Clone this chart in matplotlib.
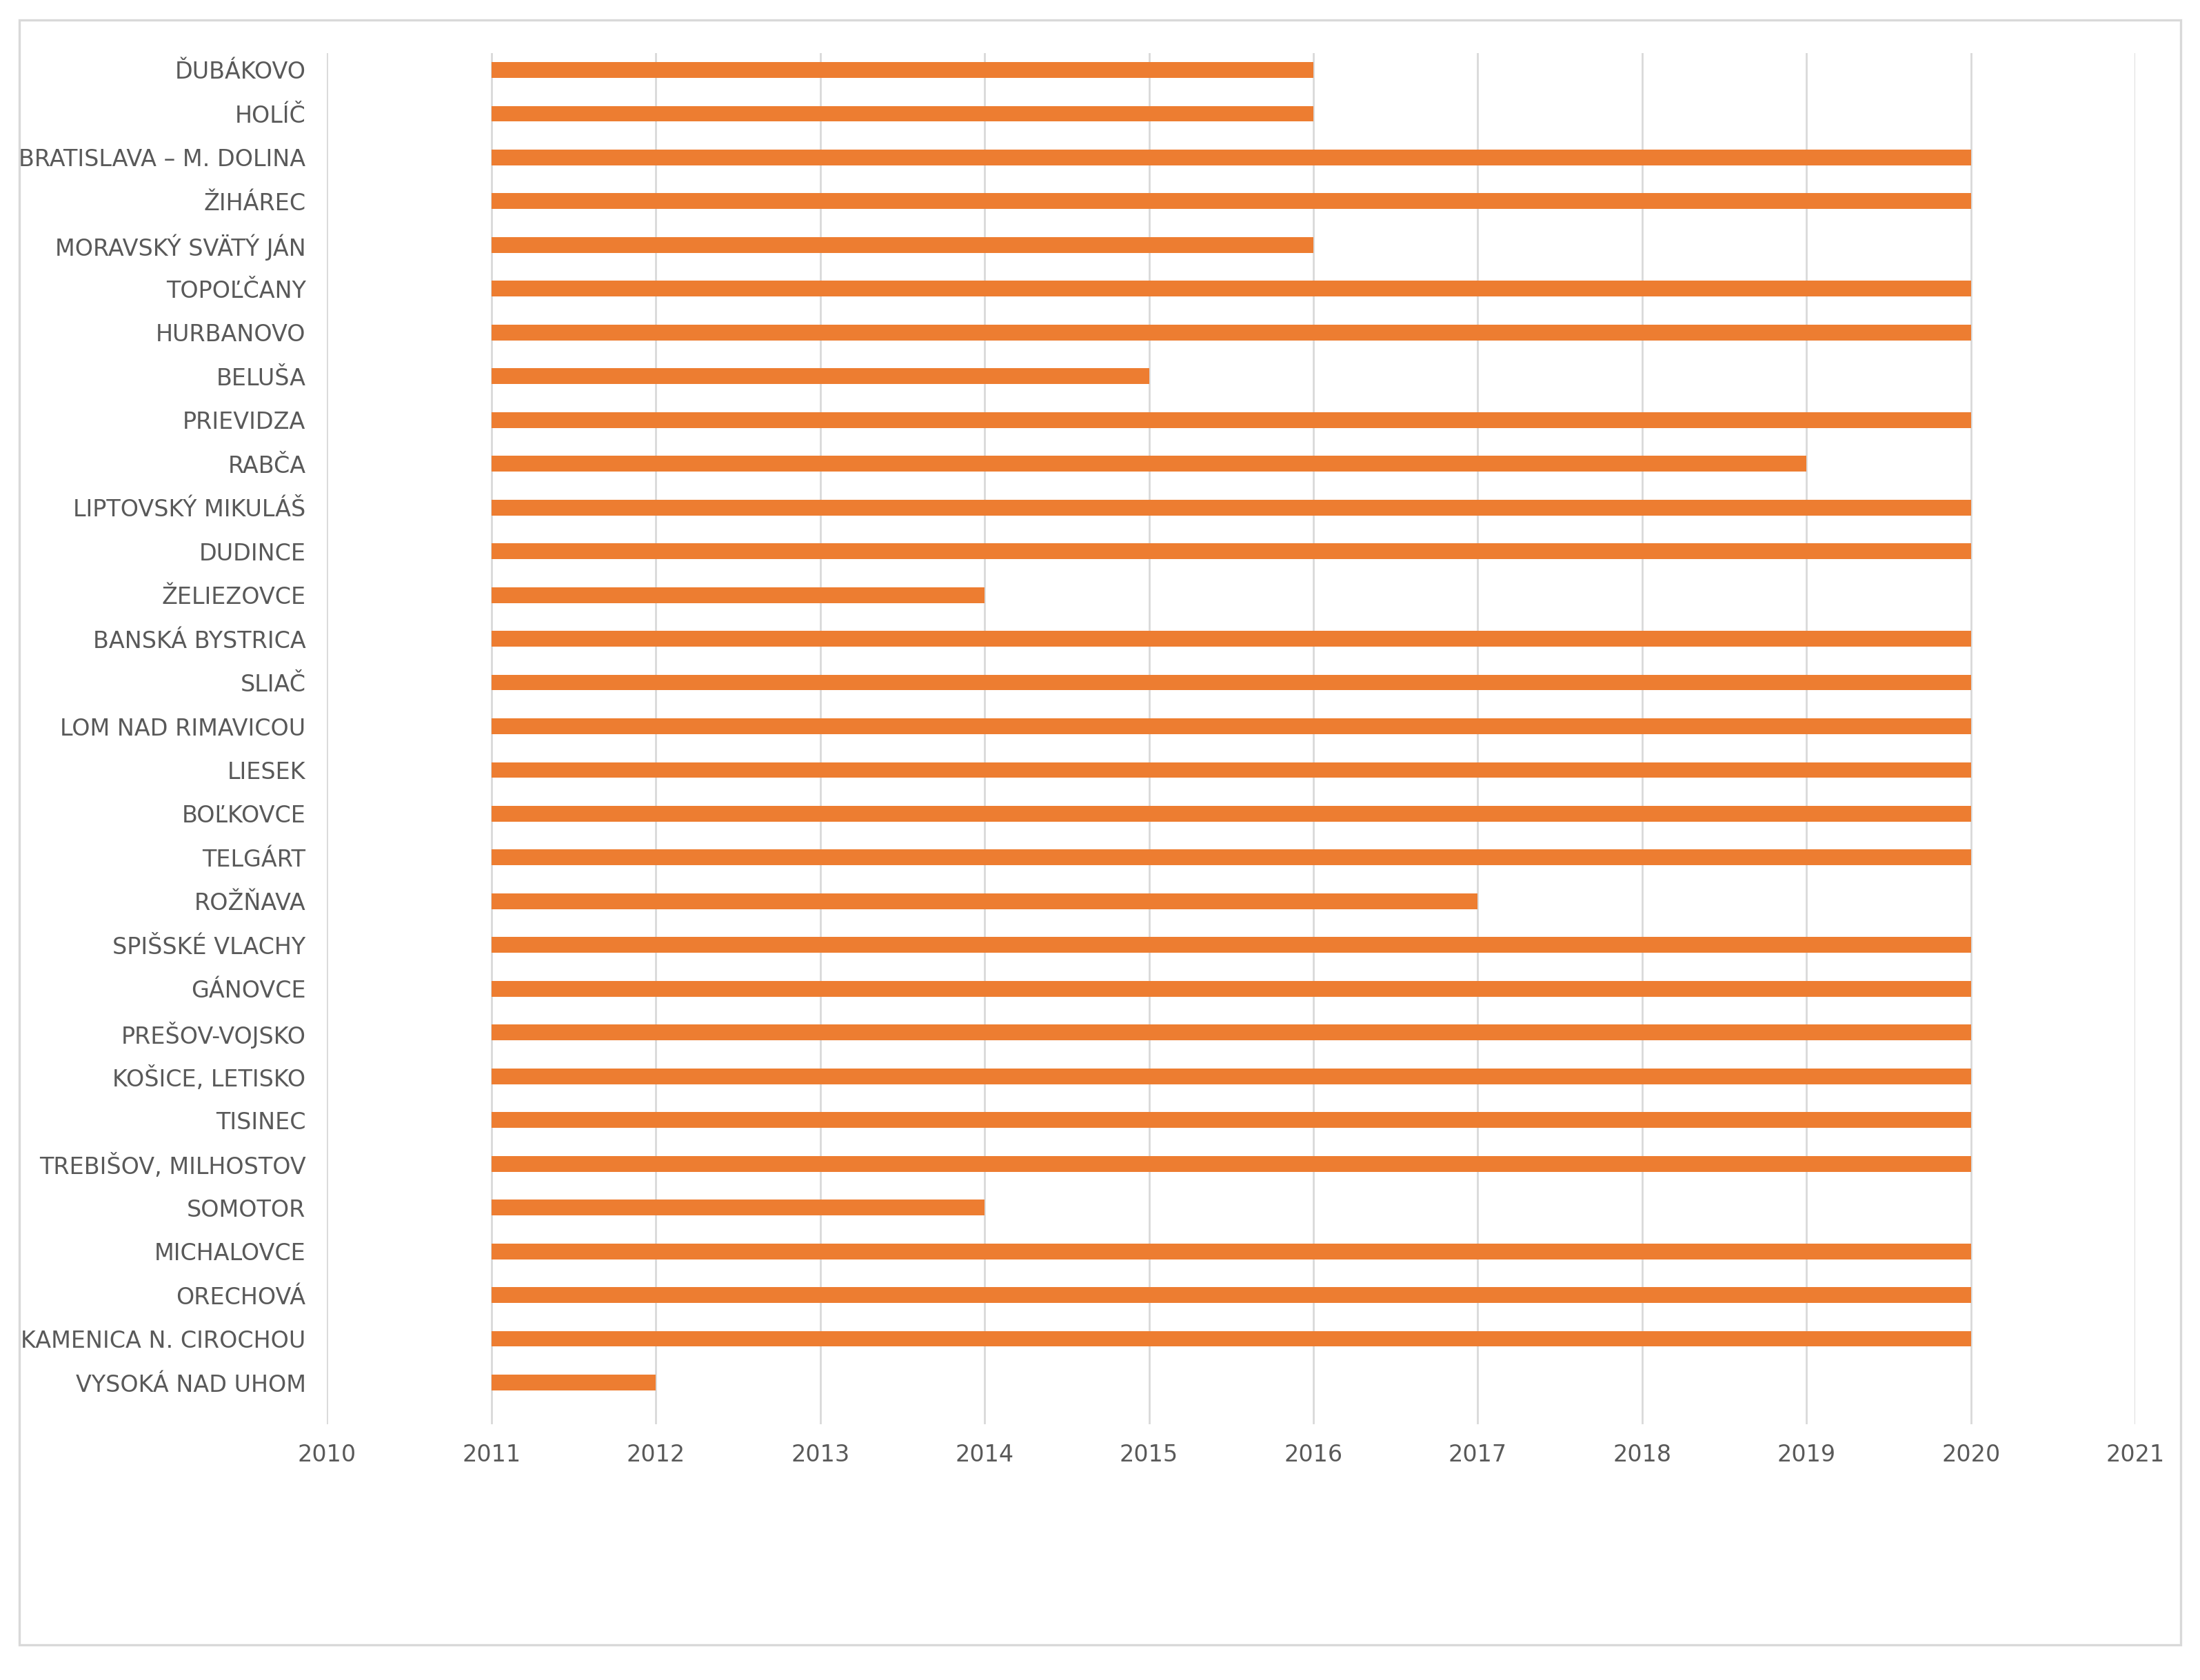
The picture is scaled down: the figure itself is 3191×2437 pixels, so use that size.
import matplotlib.pyplot as plt
from matplotlib.patches import Rectangle

plt.rcParams['font.family'] = ['Liberation Sans Narrow', 'DejaVu Sans']

# stations, top to bottom
stations = ["ĎUBÁKOVO", "HOLÍČ", "BRATISLAVA – M. DOLINA", "ŽIHÁREC", "MORAVSKÝ SVÄTÝ JÁN",
            "TOPOĽČANY", "HURBANOVO", "BELUŠA", "PRIEVIDZA", "RABČA", "LIPTOVSKÝ MIKULÁŠ",
            "DUDINCE", "ŽELIEZOVCE", "BANSKÁ BYSTRICA", "SLIAČ", "LOM NAD RIMAVICOU",
            "LIESEK", "BOĽKOVCE", "TELGÁRT", "ROŽŇAVA", "SPIŠSKÉ VLACHY", "GÁNOVCE",
            "PREŠOV-VOJSKO", "KOŠICE, LETISKO", "TISINEC", "TREBIŠOV, MILHOSTOV",
            "SOMOTOR", "MICHALOVCE", "ORECHOVÁ", "KAMENICA N. CIROCHOU", "VYSOKÁ NAD UHOM"]
start_year = [2011] * len(stations)
end_year = [2016, 2016, 2020, 2020, 2016, 2020, 2020, 2015, 2020, 2019, 2020,
            2020, 2014, 2020, 2020, 2020, 2020, 2020, 2020, 2017, 2020, 2020,
            2020, 2020, 2020, 2020, 2014, 2020, 2020, 2020, 2012]
years = list(range(2010, 2022))

fig = plt.figure(figsize=(15.955, 12.185), dpi=200)
fig.patches.append(Rectangle((14 / 1568, 1 - 1172 / 1197), 1540 / 1568, 1158 / 1197,
                             transform=fig.transFigure, fill=False, edgecolor="#d9d9d9", lw=1.2))
ax = fig.add_axes([233 / 1568, 1 - 1015 / 1197, (1522 - 233) / 1568, (1015 - 38) / 1197])

y = list(range(len(stations)))
widths = [e - s for s, e in zip(start_year, end_year)]
ax.barh(y, widths, left=start_year, height=0.36, color="#ED7D31", zorder=3)

ax.set_xlim(2010, 2021)
ax.set_ylim(30.96, -0.38)
ax.set_xticks(years)
ax.set_yticks(y)
ax.set_yticklabels(stations)
ax.grid(axis="x", color="#d9d9d9", lw=1)
for s in ax.spines.values():
    s.set_visible(False)
ax.tick_params(axis="both", length=0, colors="#595959", labelsize=12)
ax.tick_params(axis="y", pad=11)
ax.tick_params(axis="x", pad=10)

fig.savefig("out.png", dpi=200, facecolor="white")
